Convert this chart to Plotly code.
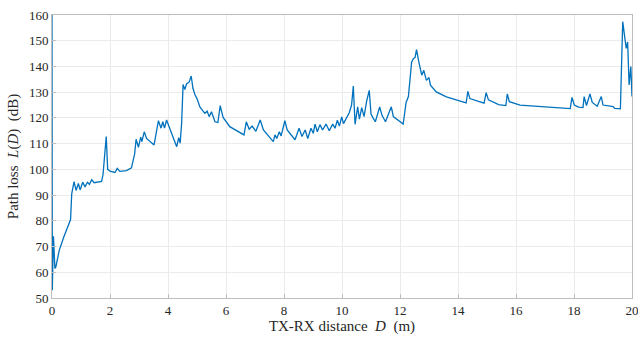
import plotly.graph_objects as go

distance_m = [
    0.0, 0.01, 0.05, 0.1, 0.13, 0.25, 0.4, 0.64, 0.68, 0.76, 0.83, 0.91, 0.97, 1.06, 1.14,
    1.22, 1.29, 1.37, 1.45, 1.59, 1.71, 1.76, 1.82, 1.87, 1.92, 2.0, 2.17, 2.25, 2.34, 2.57,
    2.74, 2.8, 2.85, 2.9, 2.98, 3.06, 3.1, 3.18, 3.26, 3.52, 3.59, 3.67, 3.76, 3.82, 3.88,
    3.95, 4.3, 4.37, 4.42, 4.47, 4.52, 4.58, 4.64, 4.73, 4.8, 4.86, 4.93, 5.0, 5.1, 5.27,
    5.35, 5.42, 5.5, 5.62, 5.72, 5.8, 5.9, 6.13, 6.62, 6.7, 6.8, 6.9, 7.03, 7.18, 7.29,
    7.63, 7.69, 7.75, 7.84, 7.9, 8.03, 8.11, 8.38, 8.52, 8.62, 8.73, 8.82, 8.93, 9.01, 9.07,
    9.15, 9.24, 9.33, 9.45, 9.56, 9.68, 9.76, 9.84, 9.91, 9.99, 10.05, 10.16, 10.25, 10.33, 10.39,
    10.45, 10.54, 10.6, 10.68, 10.76, 10.85, 10.94, 11.0, 11.07, 11.15, 11.3, 11.38, 11.5, 11.7, 11.77,
    12.03, 12.11, 12.21, 12.29, 12.4, 12.46, 12.52, 12.57, 12.65, 12.75, 12.82, 12.91, 13.0, 13.05, 13.25,
    13.6, 13.94, 14.28, 14.34, 14.41, 14.76, 14.9, 14.97, 15.05, 15.4, 15.65, 15.7, 15.77, 16.14, 16.72,
    17.3, 17.87, 17.93, 18.01, 18.16, 18.31, 18.35, 18.43, 18.55, 18.63, 18.8, 18.94, 19.0, 19.2, 19.35,
    19.4, 19.6, 19.68, 19.74, 19.8, 19.85, 19.9, 19.96, 20.0,
]

path_loss_db = [
    160, 53, 74, 61.5, 62, 68.5, 73.5, 80.5, 90.5, 95.2, 91.8, 94.5, 92, 95, 93.2,
    95, 94.2, 96, 94.8, 95, 95.3, 98, 108, 112.8, 100, 99.3, 98.8, 100.4, 99.2, 99.5,
    100.6, 104, 106, 111.7, 108.6, 112.5, 110.8, 114.6, 112, 109.5, 113.4, 118.9, 116, 118.5, 116,
    119.2, 108.8, 112.3, 110.2, 118, 133, 131, 133.2, 134, 136.3, 131.5, 129, 127.5, 124.3, 121.8,
    122.6, 120.5, 122.4, 118.5, 118.2, 124.8, 120.2, 116.6, 113.4, 118.5, 115.6, 116.8, 114.8, 119.2, 115.3,
    110.8, 113.4, 112, 114.6, 113, 118.9, 115.3, 111.5, 116, 112.8, 115.3, 112, 116, 114, 117.6,
    114.6, 117.4, 115.3, 117.6, 115, 117.6, 116, 119.1, 116.8, 120.4, 117.8, 120.4, 122, 125, 132.4,
    117.5, 124.3, 119.5, 124, 120.5, 126.5, 130.7, 121.5, 120, 118.5, 124.3, 121, 118.5, 124.3, 120.5,
    118, 117.6, 126, 128.3, 141.7, 143, 143.5, 146.5, 141.7, 136.6, 138.5, 134.6, 135.7, 132.7, 130.1,
    128.2, 127, 125.8, 130.3, 127.5, 126.2, 125.7, 129.8, 127, 125.2, 124.8, 129.3, 126.3, 125, 124.6,
    124.1, 123.6, 128, 125, 124.2, 124, 128.3, 124.8, 129.3, 126, 124.5, 128.3, 125, 124.5, 124.4,
    123.7, 123.5, 157.4, 151.6, 147, 149.5, 132.8, 140, 128.3,
]

x_ticks = [0, 2, 4, 6, 8, 10, 12, 14, 16, 18, 20]
y_ticks = [50, 60, 70, 80, 90, 100, 110, 120, 130, 140, 150, 160]

serif = "Liberation Serif, Times New Roman, serif"

fig = go.Figure(
    go.Scatter(
        x=distance_m,
        y=path_loss_db,
        mode="lines",
        line=dict(color="#0072BD", width=1.3),
        hoverinfo="skip",
        cliponaxis=False,
    )
)

fig.update_layout(
    width=638,
    height=338,
    margin=dict(l=52, r=6, t=15, b=40, autoexpand=False),
    paper_bgcolor="white",
    plot_bgcolor="white",
    showlegend=False,
    font=dict(family=serif, size=13, color="#262626"),
)

fig.update_xaxes(
    range=[0, 20],
    tickvals=x_ticks,
    ticktext=[str(v) for v in x_ticks],
    ticklabeloverflow="allow",
    automargin=False,
    showgrid=True,
    gridcolor="#EBEBEB",
    gridwidth=1,
    zeroline=False,
    showline=True,
    linecolor="#BDBDBD",
    linewidth=1,
    mirror=True,
    ticks="inside",
    ticklen=4,
    tickcolor="#BDBDBD",
    tickfont=dict(family=serif, size=13, color="#262626"),
    title=dict(
        text="TX-RX distance\u00a0 <i>D</i>\u00a0 (m)",
        font=dict(family=serif, size=15, color="#262626"),
        standoff=3,
    ),
)

fig.update_yaxes(
    range=[50, 160],
    tickvals=y_ticks,
    ticktext=[str(v) for v in y_ticks],
    ticklabeloverflow="allow",
    automargin=False,
    showgrid=True,
    gridcolor="#EBEBEB",
    gridwidth=1,
    zeroline=False,
    showline=True,
    linecolor="#BDBDBD",
    linewidth=1,
    mirror=True,
    ticks="inside",
    ticklen=4,
    tickcolor="#BDBDBD",
    tickfont=dict(family=serif, size=13, color="#262626"),
    title=dict(
        text="Path loss\u00a0 <i>L</i>(<i>D</i>)\u00a0 (dB)",
        font=dict(family=serif, size=15, color="#262626"),
        standoff=6,
    ),
)

fig.write_html(
    "out.html",
    config={"displayModeBar": False},
    post_script="document.body.style.margin='0px';document.body.style.overflow='hidden';",
)
